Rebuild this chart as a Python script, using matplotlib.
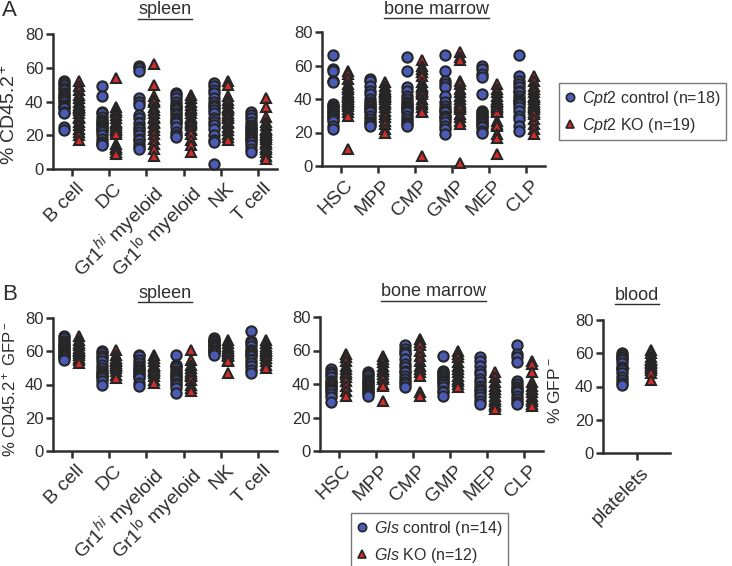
import matplotlib
matplotlib.use("Agg")
import matplotlib.pyplot as plt
import matplotlib.transforms as mtransforms
from matplotlib.lines import Line2D
import numpy as np

plt.rcParams['font.family'] = ['Liberation Sans', 'DejaVu Sans']
plt.rcParams['mathtext.fontset'] = 'custom'
plt.rcParams['mathtext.rm'] = 'Liberation Sans'
plt.rcParams['mathtext.it'] = 'Liberation Sans:italic'
plt.rcParams['mathtext.bf'] = 'Liberation Sans:bold'

# --- categories ---
spleen_cats = ['B cell', 'DC', r'Gr1$^{hi}$ myeloid', r'Gr1$^{\mathrm{lo}}$ myeloid', 'NK', 'T cell']
bm_cats = ['HSC', 'MPP', 'CMP', 'GMP', 'MEP', 'CLP']
blood_cats = ['platelets']

# --- A: Cpt2, % CD45.2+ ---
a_spleen_ctrl = [
    [52, 51, 50, 48, 47, 45, 44, 43, 42, 41, 40, 38, 37, 36, 34, 33, 25, 23],
    [49, 43, 34, 33, 31, 29, 28, 27, 26, 25, 24, 23, 22, 20, 18, 16, 15, 14],
    [61, 60, 58, 42, 40, 38, 32, 30, 27, 25, 24, 22, 20, 18, 17, 15, 13, 12],
    [45, 44, 42, 40, 38, 37, 36, 35, 33, 32, 30, 29, 28, 27, 25, 22, 20, 19],
    [51, 49, 47, 45, 42, 40, 38, 37, 35, 33, 30, 28, 26, 24, 20, 17, 16, 3],
    [34, 32, 30, 28, 26, 25, 24, 23, 22, 21, 20, 19, 18, 17, 16, 14, 12, 10],
]
a_spleen_ko = [
    [52, 49, 47, 44, 42, 40, 38, 37, 36, 35, 33, 31, 30, 28, 26, 24, 22, 20, 17],
    [54, 37, 35, 34, 32, 30, 28, 27, 26, 25, 24, 23, 22, 21, 15, 13, 12, 10, 9],
    [62, 50, 43, 41, 40, 37, 35, 33, 31, 30, 28, 27, 25, 23, 21, 18, 15, 12, 8],
    [44, 42, 40, 38, 36, 35, 33, 31, 30, 29, 28, 27, 26, 24, 23, 21, 17, 14, 10],
    [52, 50, 43, 41, 39, 37, 36, 35, 33, 32, 31, 30, 28, 27, 25, 23, 21, 19, 17],
    [42, 37, 31, 28, 26, 24, 23, 22, 21, 20, 19, 18, 16, 15, 13, 12, 10, 8, 6],
]
a_bm_ctrl = [
    [66, 58, 57, 51, 50, 37, 36, 35, 34, 33, 32, 31, 30, 29, 28, 27, 24, 22],
    [52, 51, 48, 45, 43, 40, 38, 37, 36, 35, 34, 33, 32, 30, 28, 26, 25, 24],
    [65, 57, 47, 45, 42, 40, 38, 37, 36, 35, 34, 33, 32, 30, 28, 26, 25, 24],
    [66, 57, 51, 49, 47, 42, 38, 36, 34, 33, 32, 30, 29, 28, 26, 24, 22, 19],
    [60, 58, 55, 53, 43, 33, 32, 31, 30, 29, 28, 27, 26, 25, 24, 23, 21, 20],
    [66, 54, 51, 49, 47, 45, 44, 42, 40, 39, 38, 37, 35, 33, 30, 28, 24, 21],
]
a_bm_ko = [
    [57, 55, 52, 49, 47, 46, 44, 43, 42, 41, 40, 39, 38, 37, 36, 34, 32, 30, 10],
    [50, 48, 46, 45, 44, 43, 42, 41, 40, 38, 37, 35, 33, 31, 29, 27, 25, 22, 20],
    [63, 60, 58, 56, 54, 50, 48, 47, 46, 45, 44, 43, 40, 38, 37, 35, 33, 32, 6],
    [68, 65, 63, 51, 49, 46, 44, 42, 40, 38, 37, 36, 35, 34, 31, 29, 27, 25, 2],
    [49, 46, 44, 42, 40, 39, 38, 37, 36, 35, 34, 33, 32, 27, 25, 24, 19, 17, 7],
    [54, 51, 48, 46, 44, 42, 41, 40, 38, 37, 36, 35, 34, 32, 31, 28, 25, 22, 19],
]

# --- B: Gls, % CD45.2+ GFP- ---
b_spleen_ctrl = [
    [69, 68, 66, 65, 64, 63, 62, 61, 60, 59, 58, 57, 56, 55],
    [60, 59, 57, 56, 54, 52, 50, 48, 47, 46, 45, 44, 42, 40],
    [58, 57, 55, 53, 51, 50, 49, 48, 47, 46, 45, 44, 41, 39],
    [58, 52, 51, 50, 48, 47, 46, 45, 44, 43, 41, 40, 38, 35],
    [68, 67, 66, 66, 65, 64, 64, 63, 62, 61, 60, 60, 59, 58],
    [72, 66, 65, 63, 61, 60, 59, 58, 57, 55, 53, 51, 49, 47],
]
b_spleen_ko = [
    [69, 67, 65, 64, 62, 61, 60, 59, 58, 56, 55, 53],
    [61, 58, 56, 55, 54, 53, 52, 51, 50, 48, 46, 44],
    [58, 56, 54, 52, 51, 50, 49, 48, 47, 45, 43, 41],
    [61, 55, 52, 50, 48, 47, 46, 45, 43, 40, 38, 36],
    [67, 65, 63, 62, 61, 60, 59, 58, 57, 55, 54, 47],
    [67, 65, 63, 62, 61, 60, 59, 58, 56, 54, 52, 50],
]
b_bm_ctrl = [
    [49, 47, 46, 44, 42, 41, 40, 39, 38, 37, 36, 34, 32, 29],
    [47, 46, 45, 43, 42, 41, 40, 39, 38, 37, 36, 35, 34, 33],
    [63, 61, 59, 58, 55, 52, 50, 48, 47, 45, 43, 41, 40, 38],
    [57, 48, 47, 46, 45, 44, 43, 42, 41, 40, 38, 36, 35, 33],
    [56, 54, 51, 48, 46, 43, 41, 39, 37, 36, 34, 32, 30, 28],
    [63, 58, 56, 53, 42, 40, 38, 37, 36, 35, 33, 31, 29, 28],
]
b_bm_ko = [
    [58, 56, 54, 51, 49, 47, 46, 44, 42, 39, 36, 33],
    [57, 55, 53, 51, 49, 48, 46, 44, 43, 40, 39, 30],
    [67, 65, 63, 60, 57, 54, 51, 49, 47, 45, 35, 33],
    [60, 58, 56, 53, 51, 49, 47, 45, 43, 42, 40, 38],
    [47, 44, 41, 39, 37, 35, 33, 31, 30, 28, 27, 25],
    [54, 52, 47, 41, 39, 37, 35, 33, 31, 30, 28, 27],
]
b_blood_ctrl = [[60, 59, 58, 57, 56, 54, 52, 51, 50, 48, 46, 44, 42, 41]]
b_blood_ko = [[62, 60, 58, 56, 55, 54, 53, 52, 51, 50, 48, 44]]

BLUE = '#4a5cb8'
RED = '#d42b2b'
EDGE = '#262626'
AXC = '#2e2e2e'

W, H = 732, 566
fig = plt.figure(figsize=(W / 100, H / 100), dpi=100)


def px_axes(x0, y0, x1, y1):
    # pixel box (top-left origin) -> figure axes
    return fig.add_axes([x0 / W, 1 - y1 / H, (x1 - x0) / W, (y1 - y0) / H])


def style_axes(ax, cats):
    for s in ['top', 'right']:
        ax.spines[s].set_visible(False)
    for s in ['left', 'bottom']:
        ax.spines[s].set_linewidth(1.8)
        ax.spines[s].set_color(AXC)
    ax.set_ylim(0, 80)
    ax.set_yticks([0, 20, 40, 60, 80])
    ax.set_xticks(range(len(cats)))
    ax.set_xticklabels(cats, rotation=45, ha='right', va='top',
                       rotation_mode='anchor', fontsize=14, color=AXC)
    ax.tick_params(axis='both', width=1.8, length=5, color=AXC,
                   labelcolor=AXC)
    ax.tick_params(axis='y', labelsize=12, pad=2)
    ax.tick_params(axis='x', pad=3)
    # nudge rotated labels so they end near the tick
    off = mtransforms.ScaledTranslation(3 / 72, 0, fig.dpi_scale_trans)
    for lab in ax.get_xticklabels():
        lab.set_transform(lab.get_transform() + off)


def draw_groups(ax, ctrl, ko, off, mw):
    for i, (c, k) in enumerate(zip(ctrl, ko)):
        ax.plot([i - off] * len(c), c, 'o', ms=7.4, mfc=BLUE, mec=EDGE,
                mew=1.5, clip_on=False, zorder=3)
        ax.plot([i + off] * len(k), k, '^', ms=7.8, mfc=RED, mec=EDGE,
                mew=1.5, clip_on=False, zorder=3)
        ax.hlines([np.mean(c)], i - off - mw, i - off + mw, color=EDGE,
                  lw=1.0, zorder=4)
        ax.hlines([np.mean(k)], i + off - mw, i + off + mw, color=EDGE,
                  lw=1.0, zorder=4)


# --- A ---
ax1 = px_axes(53, 34, 277, 169)
style_axes(ax1, spleen_cats)
ax1.set_xlim(-0.5, 5.5)
draw_groups(ax1, a_spleen_ctrl, a_spleen_ko, 0.2, 0.1)
ax1.set_ylabel(r'% CD45.2$^+$', fontsize=14, color=AXC)
ax1.yaxis.set_label_coords(-0.155, 0.40)

ax2 = px_axes(322, 32, 545, 166)
style_axes(ax2, bm_cats)
ax2.set_xlim(-0.5, 5.5)
draw_groups(ax2, a_bm_ctrl, a_bm_ko, 0.2, 0.1)

# --- B ---
ax3 = px_axes(53, 318, 277, 451)
style_axes(ax3, spleen_cats)
ax3.set_xlim(-0.5, 5.5)
draw_groups(ax3, b_spleen_ctrl, b_spleen_ko, 0.2, 0.1)
ax3.set_ylabel(r'% CD45.2$^+$ GFP$^-$', fontsize=12, color=AXC)
ax3.yaxis.set_label_coords(-0.155, 0.47)

ax4 = px_axes(320, 317, 543, 451)
style_axes(ax4, bm_cats)
ax4.set_xlim(-0.5, 5.5)
draw_groups(ax4, b_bm_ctrl, b_bm_ko, 0.2, 0.1)

ax5 = px_axes(603, 320, 670, 453)
style_axes(ax5, blood_cats)
ax5.set_xlim(-0.5, 0.5)
draw_groups(ax5, b_blood_ctrl, b_blood_ko, 0.21, 0.1)
ax5.set_ylabel(r'% GFP$^-$', fontsize=12.5, color=AXC)
ax5.yaxis.set_label_coords(-0.6, 0.466)

# panel letters
fig.text(2 / W, 1 - 10 / H, 'A', fontsize=16, color=AXC, va='center', ha='left')
fig.text(2 / W, 1 - 295 / H, 'B', fontsize=16, color=AXC, va='center', ha='left')

# underlined titles
titles = [('spleen', 165, 10), ('bone marrow', 436, 9),
          ('spleen', 165, 293), ('bone marrow', 433, 292), ('blood', 637, 295)]
fig.canvas.draw()
renderer = fig.canvas.get_renderer()
for txt, x, y in titles:
    t = fig.text(x / W, 1 - y / H, txt, fontsize=13, color=AXC,
                 ha='center', va='center')
    bb = t.get_window_extent(renderer)
    yl = bb.y0 - 0.5
    fig.add_artist(Line2D([bb.x0 / W, bb.x1 / W], [yl / H, yl / H],
                          color=AXC, lw=1.0))

# legends
h_c = Line2D([], [], marker='o', ls='', ms=6, mfc=BLUE, mec=EDGE, mew=1.2)
h_k = Line2D([], [], marker='^', ls='', ms=6, mfc=RED, mec=EDGE, mew=1.2)
leg_kw = dict(loc='upper left', borderaxespad=0, fontsize=11.5, frameon=True,
              fancybox=False, edgecolor='#555555', handlelength=0.7,
              handletextpad=0.4, labelspacing=0.5, borderpad=0.35,
              labelcolor=AXC)
leg1 = fig.legend([h_c, h_k],
                  [r'$\mathit{Cpt2}$ control (n=18)', r'$\mathit{Cpt2}$ KO (n=19)'],
                  bbox_to_anchor=(559 / W, 1 - 83 / H), **leg_kw)
leg1.get_frame().set_linewidth(1.0)

leg2 = fig.legend([h_c, h_k],
                  [r'$\mathit{Gls}$ control (n=14)', r'$\mathit{Gls}$ KO (n=12)'],
                  bbox_to_anchor=(351 / W, 1 - 513 / H), **leg_kw)
leg2.get_frame().set_linewidth(1.0)

fig.savefig('out.png', dpi=100)
